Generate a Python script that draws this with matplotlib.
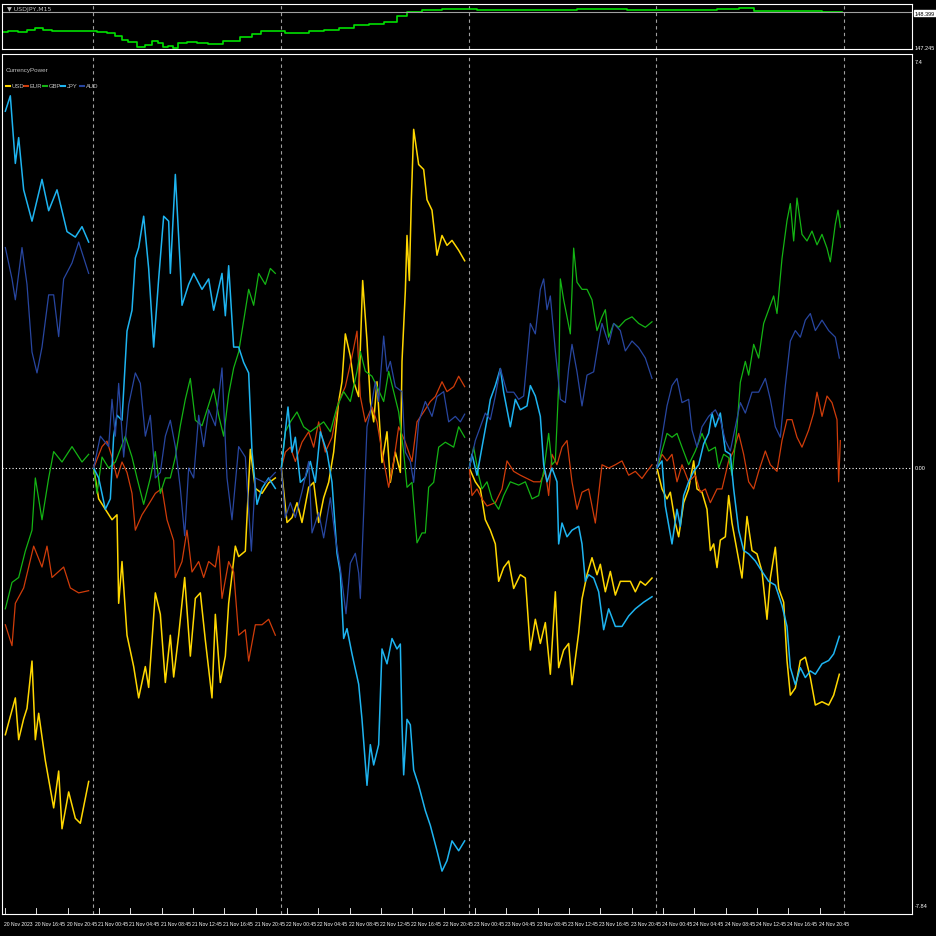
import numpy as np
import matplotlib
matplotlib.use("Agg")
import matplotlib.pyplot as plt

# time axis is in chart columns (one trading day = 188 columns), values are currency power
# each segment: (offset, [column steps], [values]); real column = offset + step/3
USD = [
    (0, [10, 40, 50, 65, 75, 90, 100, 110, 130, 155, 170, 180, 200, 220, 235, 260],
     [-4.85, -4.18, -4.94, -4.56, -4.37, -3.51, -4.94, -4.46, -5.32, -6.18, -5.51, -6.56, -5.89, -6.37, -6.46, -5.7]),
    (0, [275, 290, 310, 330, 345, 350, 360, 375, 395, 410, 430, 440, 460, 475, 490, 505, 515, 530, 548, 565, 580, 595, 610, 630, 640, 655, 670, 680, 700, 710, 730, 745, 760, 780, 800, 820],
     [0, -0.56, -0.75, -0.94, -0.85, -2.46, -1.7, -3.04, -3.61, -4.18, -3.61, -3.99, -2.27, -2.66, -3.9, -3.04, -3.8, -3.04, -1.99, -3.42, -2.37, -2.27, -3.13, -4.18, -2.66, -3.9, -3.42, -2.46, -1.42, -1.61, -1.51, 0.34, -0.37, -0.46, -0.27, -0.18]),
    (270, [28, 45, 60, 75, 90, 110, 125, 140, 155, 170, 185, 200, 210, 220, 235, 245, 260, 272, 285, 295, 305, 315, 330, 345, 355, 370, 385, 390, 400, 405, 412, 418, 425, 440, 455, 465, 480, 495, 510, 525, 540, 560, 578],
     [0, -0.99, -0.9, -0.63, -0.99, -0.35, -0.26, -0.99, -0.54, -0.26, 0.29, 1.21, 1.57, 2.44, 2.03, 1.57, 1.3, 3.41, 2.31, 1.21, 0.84, 1.57, 0.1, 0.66, -0.26, 0.29, -0.08, 1.94, 3.22, 4.23, 3.41, 4.88, 6.16, 5.52, 5.43, 4.88, 4.69, 3.87, 4.23, 4.05, 4.14, 3.96, 3.77]),
    (460, [22, 40, 55, 70, 85, 100, 110, 125, 140, 155, 175, 190, 205, 220, 235, 250, 265, 280, 290, 305, 320, 330, 350, 360, 375, 390, 405, 415, 430, 445, 460, 475, 490, 505, 520, 535, 550, 570],
     [0, -0.25, -0.38, -0.94, -1.13, -1.38, -2.06, -1.81, -1.69, -2.19, -1.94, -2.0, -3.31, -2.75, -3.19, -2.81, -3.75, -2.25, -3.63, -3.31, -3.19, -3.94, -3.0, -2.38, -1.94, -1.63, -1.94, -1.75, -2.25, -1.88, -2.31, -2.06, -2.06, -2.06, -2.25, -2.06, -2.13, -2.0]),
    (460, [585, 600, 615, 625, 640, 650, 665, 680, 695, 705, 720, 735, 745, 755, 765, 775, 790, 800, 810, 825, 840, 855, 870, 885, 900, 915, 925, 940, 950, 965, 975, 985, 1000, 1015, 1030, 1045, 1060, 1080, 1100, 1115, 1132],
     [0, -0.38, -0.56, -0.44, -1.0, -1.25, -0.63, -0.38, 0.13, -0.38, -0.44, -0.75, -1.5, -1.38, -1.81, -1.31, -1.25, -0.5, -1.0, -1.5, -2.0, -0.88, -1.5, -1.56, -1.88, -2.75, -2.0, -1.44, -2.19, -2.44, -3.5, -4.13, -4.0, -3.5, -3.44, -3.81, -4.31, -4.25, -4.31, -4.13, -3.75]),
]

EUR = [
    (0, [10, 30, 40, 65, 95, 120, 135, 150, 185, 205, 230, 260],
     [-2.85, -3.23, -2.46, -2.18, -1.42, -1.8, -1.42, -1.99, -1.8, -2.18, -2.27, -2.23]),
    (0, [275, 300, 315, 330, 345, 360, 375, 390, 400, 420, 440, 460, 480, 495, 515, 520, 540, 555, 570, 590, 605, 620, 640, 650, 660, 680, 695, 710, 730, 740, 760, 780, 800, 820],
     [0, 0.39, 0.49, 0.2, -0.18, 0.11, -0.08, -0.46, -1.13, -0.85, -0.66, -0.46, -0.37, -0.94, -1.32, -1.99, -1.7, -1.13, -1.89, -1.7, -1.99, -1.7, -1.8, -1.42, -2.37, -1.7, -1.89, -3.04, -2.94, -3.51, -2.85, -2.85, -2.75, -3.04]),
    (270, [28, 40, 55, 70, 90, 110, 125, 140, 160, 180, 200, 220, 240, 255, 265, 280, 300, 315, 330, 350, 365, 380, 400, 420, 435, 455, 475, 490, 510, 525, 545, 560, 578],
     [0, 0.29, 0.38, 0.12, 0.47, 0.66, 0.38, 0.84, 0.29, 0.56, 1.21, 1.48, 2.03, 2.49, 1.3, 0.84, 1.11, 0.84, 0.29, -0.35, 0.12, 0.75, 0.47, 0.12, 0.84, 1.02, 1.21, 1.3, 1.57, 1.39, 1.48, 1.67, 1.48]),
    (460, [22, 30, 45, 60, 75, 100, 120, 135, 155, 175, 195, 215, 235, 250, 260, 270, 285, 300, 315, 330, 345, 360, 380, 400, 420, 440, 460, 480, 500, 520, 540, 555, 570],
     [0, -0.5, -0.38, -0.56, -0.69, -0.63, -0.38, 0.13, -0.06, -0.13, -0.19, -0.25, -0.25, -0.06, -0.5, 0.25, 0.06, 0.38, 0.5, -0.25, -0.75, -0.44, -0.38, -1.0, 0.06, 0.0, 0.06, 0.13, -0.13, -0.06, -0.19, -0.06, 0.06]),
    (460, [585, 600, 615, 630, 645, 660, 680, 700, 715, 730, 745, 765, 780, 800, 815, 830, 845, 860, 875, 890, 910, 925, 945, 960, 975, 990, 1005, 1020, 1040, 1055, 1065, 1080, 1095, 1110, 1125, 1130, 1135],
     [0, 0.25, 0.13, 0.25, -0.25, 0.06, -0.25, -0.13, -0.44, -0.38, -0.63, -0.38, -0.38, 0.13, 0.31, 0.63, 0.25, -0.25, -0.38, -0.06, 0.31, 0.06, -0.06, 0.5, 0.88, 0.88, 0.56, 0.38, 0.69, 1.0, 1.38, 0.94, 1.31, 1.19, 0.88, -0.25, 0.5]),
]

GBP = [
    (0, [10, 30, 50, 70, 90, 100, 120, 140, 155, 180, 210, 240, 260],
     [-2.56, -2.08, -1.99, -1.51, -1.13, -0.18, -0.94, -0.18, 0.3, 0.11, 0.39, 0.11, 0.25]),
    (0, [275, 285, 300, 320, 340, 370, 390, 405, 425, 445, 460, 475, 490, 505, 520, 535, 550, 565, 580, 600, 620, 635, 650, 665, 680, 695, 710, 725, 740, 755, 770, 790, 805, 820],
     [0, -0.46, 0.2, 0, 0.11, 0.58, 0.2, -0.18, -0.66, -0.18, 0.3, -0.46, -0.18, -0.18, 0.2, 0.77, 1.25, 1.63, 0.87, 0.77, 1.15, 1.44, 0.96, 0.58, 1.34, 1.82, 2.11, 2.68, 3.25, 2.96, 3.54, 3.34, 3.63, 3.54]),
    (270, [28, 40, 55, 75, 95, 115, 135, 155, 175, 195, 215, 235, 255, 265, 280, 300, 315, 335, 350, 365, 380, 395, 405, 420, 435, 450, 460, 470, 485, 500, 520, 545, 560, 578],
     [0, 0.66, 0.84, 1.02, 0.75, 0.66, 0.75, 0.84, 0.66, 1.11, 1.39, 1.21, 1.76, 2.12, 1.76, 1.67, 1.48, 1.21, 1.76, 1.39, 1.02, 0.29, -0.35, -0.26, -1.36, -1.18, -1.18, -0.35, -0.26, 0.38, 0.47, 0.38, 0.75, 0.56]),
    (460, [22, 35, 50, 60, 75, 90, 110, 125, 145, 170, 190, 210, 230, 245, 260, 270, 280, 290, 295, 305, 315, 325, 335, 345, 360, 375, 390, 405, 420, 430, 440, 455, 470, 490, 510, 530, 550, 570],
     [0, 0.38, -0.13, -0.38, -0.25, -0.56, -0.75, -0.5, -0.25, -0.31, -0.25, -0.56, -0.5, -0.06, 0.63, 0.06, 0.13, 1.5, 3.44, 3.06, 2.75, 2.44, 4.0, 3.38, 3.25, 3.25, 3.06, 2.5, 2.75, 2.88, 2.38, 2.63, 2.56, 2.69, 2.75, 2.63, 2.56, 2.66]),
    (460, [585, 600, 615, 630, 645, 660, 680, 700, 720, 740, 760, 770, 785, 800, 810, 825, 835, 850, 860, 875, 890, 905, 920, 935, 945, 960, 975, 985, 995, 1005, 1020, 1035, 1050, 1065, 1080, 1095, 1105, 1120, 1128, 1135],
     [0, 0.31, 0.63, 0.56, 0.63, 0.38, 0.06, 0.31, 0.63, 0.31, 0.38, 0, 0.25, 0.19, -0.13, 0.75, 1.56, 1.94, 1.69, 2.25, 2.0, 2.63, 2.88, 3.13, 2.81, 3.81, 4.5, 4.81, 4.13, 4.91, 4.25, 4.13, 4.31, 4.06, 4.25, 4.0, 3.75, 4.44, 4.69, 4.38]),
]

JPY = [
    (0, [10, 25, 40, 50, 65, 90, 120, 140, 165, 195, 220, 240, 260],
     [6.49, 6.77, 5.54, 6.01, 5.06, 4.49, 5.25, 4.68, 5.06, 4.3, 4.2, 4.39, 4.11]),
    (0, [275, 290, 310, 325, 335, 345, 360, 375, 390, 400, 410, 425, 440, 455, 470, 485, 500, 505, 520, 535, 540, 560, 575, 600, 620, 635, 660, 670, 680, 695, 710, 725, 740, 750, 765, 780, 800, 820],
     [0, -0.18, -0.75, -0.56, 0.58, 0.96, 0.87, 2.49, 2.87, 3.82, 4.01, 4.58, 3.63, 2.2, 3.44, 4.58, 4.49, 3.54, 5.34, 3.63, 2.96, 3.34, 3.54, 3.25, 3.44, 2.87, 3.54, 2.77, 3.68, 2.2, 2.2, 1.92, 1.73, 0.3, -0.66, -0.37, -0.18, -0.37]),
    (270, [28, 48, 60, 70, 85, 100, 115, 130, 145, 165, 180, 195, 205, 215, 225, 240, 260, 270, 285, 295, 305, 320, 330, 345, 360, 375, 385, 390, 395, 405, 415, 425, 440, 460, 475, 495, 510, 525, 540, 560, 578],
     [0, 1.11, 0.29, 0.56, -0.26, -0.17, 0.12, -0.26, 0.66, 0.29, -0.26, -1.55, -1.91, -3.1, -2.92, -3.38, -3.93, -4.57, -5.77, -5.03, -5.4, -5.03, -3.29, -3.56, -3.1, -3.29, -3.2, -4.67, -5.58, -4.57, -4.67, -5.49, -5.77, -6.23, -6.5, -6.96, -7.33, -7.14, -6.78, -6.96, -6.78]),
    (460, [22, 30, 45, 60, 75, 85, 100, 115, 125, 145, 160, 175, 195, 205, 220, 235, 245, 255, 270, 285, 290, 300, 315, 330, 350, 360, 370, 380, 395, 410, 425, 440, 460, 480, 500, 520, 545, 570],
     [0, 0.25, -0.13, 0.38, 0.88, 1.25, 1.5, 1.81, 1.38, 0.75, 1.25, 1.06, 1.13, 1.5, 1.31, 0.94, 0.06, -0.25, 0, -0.25, -1.38, -1.0, -1.25, -1.13, -1.06, -1.38, -2.06, -1.94, -2.0, -2.25, -2.94, -2.56, -2.88, -2.88, -2.69, -2.56, -2.44, -2.34]),
    (460, [585, 600, 610, 630, 645, 655, 665, 680, 695, 710, 725, 740, 750, 760, 775, 790, 805, 815, 830, 845, 860, 880, 900, 920, 940, 960, 975, 985, 1000, 1015, 1030, 1045, 1060, 1080, 1100, 1115, 1132],
     [0, 0.13, -0.69, -1.38, -0.75, -1.06, -0.5, -0.25, -0.06, 0.06, 0.44, 0.63, 1.0, 0.75, 1.0, 0.31, 0.25, -0.38, -1.13, -1.5, -1.56, -1.69, -1.88, -2.06, -2.13, -2.5, -2.88, -3.63, -3.94, -3.63, -3.81, -3.69, -3.75, -3.56, -3.5, -3.38, -3.06]),
]

AUD = [
    (0, [10, 30, 40, 60, 75, 90, 105, 120, 140, 155, 170, 185, 210, 230, 260],
     [4.01, 3.44, 3.06, 4.01, 3.34, 2.11, 1.73, 2.2, 3.15, 3.15, 2.39, 3.44, 3.73, 4.11, 3.54]),
    (0, [275, 295, 320, 330, 340, 350, 365, 380, 400, 415, 430, 445, 460, 475, 490, 505, 520, 535, 548, 560, 575, 590, 605, 620, 640, 660, 675, 690, 710, 730, 748, 760, 790, 820],
     [0, 0.58, 0.39, 1.25, 0.58, 1.54, 0.2, 1.15, 1.73, 1.54, 0.58, 0.96, -0.18, -0.08, 0.58, 0.87, 0.39, -0.37, -1.23, 0, -0.18, 0.96, 0.39, 1.06, 0.77, 1.82, -0.18, -0.94, 0.39, 0.2, -1.51, -0.18, -0.27, -0.08]),
    (270, [28, 40, 55, 70, 90, 110, 120, 140, 155, 175, 190, 205, 222, 235, 250, 260, 265, 275, 285, 295, 310, 320, 335, 345, 355, 370, 390, 400, 415, 425, 440, 460, 480, 495, 515, 530, 550, 565, 578],
     [0, -0.9, -0.63, -0.9, -0.43, 0.12, -1.18, -0.81, -1.27, -0.54, -1.27, -1.82, -2.65, -1.73, -1.55, -1.91, -2.37, -0.81, 0.75, 1.02, 1.57, 1.21, 2.4, 1.76, 1.94, 1.48, 1.39, 0.29, 0.12, -0.26, 0.84, 1.21, 0.94, 1.3, 1.39, 0.84, 0.94, 0.84, 0.98]),
    (460, [22, 40, 55, 70, 85, 100, 115, 135, 155, 170, 185, 205, 220, 235, 245, 255, 265, 280, 295, 310, 320, 330, 345, 360, 375, 395, 410, 420, 440, 455, 475, 490, 510, 530, 550, 570],
     [0, 0.5, 0.75, 1.0, 0.88, 1.31, 1.81, 1.38, 1.38, 1.25, 1.31, 2.63, 2.44, 3.25, 3.44, 2.88, 3.13, 2.13, 1.25, 1.19, 1.81, 2.25, 1.75, 1.13, 1.69, 1.75, 2.31, 2.63, 2.25, 2.63, 2.5, 2.13, 2.31, 2.19, 2.0, 1.63]),
    (460, [585, 600, 615, 630, 645, 660, 680, 690, 705, 720, 740, 760, 775, 790, 805, 820, 835, 850, 870, 890, 910, 925, 940, 955, 970, 985, 1000, 1015, 1030, 1045, 1060, 1080, 1100, 1120, 1132],
     [0, 0.56, 1.13, 1.5, 1.63, 1.19, 1.25, 0.69, 0.38, 0.75, 0.94, 1.06, 0.88, 0.5, 0.31, 0.75, 1.19, 1.0, 1.38, 1.38, 1.63, 1.25, 0.75, 0.56, 1.5, 2.31, 2.5, 2.38, 2.69, 2.81, 2.5, 2.69, 2.5, 2.38, 2.0]),
]

# USDJPY M15 price (top window)
PRICE_T = [0, 12, 20, 30, 37, 45, 55, 70, 90, 100, 110, 117, 123, 130, 140, 147, 153, 160, 163, 170, 173, 180, 190, 200, 213, 230, 247, 253, 265, 277, 290, 300, 315, 330, 345, 360, 375, 390, 400, 410, 430, 450, 500, 550, 600, 650, 700, 730, 745, 760, 800, 840]
PRICE = [147.77, 147.80, 147.77, 147.85, 147.90, 147.83, 147.80, 147.80, 147.80, 147.77, 147.74, 147.64, 147.51, 147.45, 147.28, 147.35, 147.48, 147.42, 147.28, 147.32, 147.25, 147.40, 147.45, 147.41, 147.38, 147.48, 147.61, 147.71, 147.80, 147.80, 147.74, 147.74, 147.80, 147.84, 147.92, 148.01, 148.05, 148.11, 148.30, 148.44, 148.50, 148.54, 148.51, 148.51, 148.52, 148.51, 148.50, 148.54, 148.56, 148.47, 148.47, 148.44]

SERIES = [("USD", USD, "#ffd700"), ("EUR", EUR, "#d03c0a"), ("GBP", GBP, "#14b414"),
          ("JPY", JPY, "#1eb4f0"), ("AUD", AUD, "#2846a0")]
DAY_LINES = [91, 279, 467, 654, 842]

plt.rcParams["font.family"] = ["Liberation Sans", "DejaVu Sans"]

W = 937
fig = plt.figure(figsize=(9.37, 9.37), dpi=100, facecolor="black")

ax_top = fig.add_axes([2 / W, 1 - 50 / W, 910 / W, 45 / W], facecolor="black")
ax = fig.add_axes([2 / W, 22 / W, 910 / W, 860 / W], facecolor="black")

for a in (ax_top, ax):
    a.set_xlim(0, 910)
    a.set_xticks([])
    a.set_yticks([])
    for s in a.spines.values():
        s.set_color("white")
        s.set_linewidth(0.8)
    for d in DAY_LINES:
        a.axvline(d, color="#a0a0a0", lw=0.8, ls=(0, (3, 3)))

ax_top.step(PRICE_T, PRICE, where="mid", color="#00e000", lw=1.2)
ax_top.set_ylim(147.22, 148.69)
ax_top.axhline(148.44, color="#a0a0a0", lw=0.8)
ax_top.text(5, 148.54, "▼ USDJPY,M15", color="#c0c0c0", fontsize=4.5, va="center",
            family=["DejaVu Sans"])
fig.text(915 / W, 1 - 14 / W, "148.399", color="black", fontsize=4.0, va="center",
         bbox=dict(facecolor="white", edgecolor="white", pad=0.5))
fig.text(915 / W, 1 - 48 / W, "147.245", color="white", fontsize=4.0, va="center")

ax.axhline(0, color="white", lw=0.8, ls=(0, (1, 2)))
for name, segs, col in SERIES:
    for off, steps, vals in segs:
        t = off + np.array(steps) / 3.0
        ax.plot(t, vals, color=col, lw=1.1 if name in ("USD", "JPY") else 0.9)
ax.set_ylim(-8.11, 7.53)

ax.text(4, 7.25, "CurrencyPower", color="#c0c0c0", fontsize=4.5, va="center")
lx = 4
for name, segs, col in SERIES:
    ax.plot([lx, lx + 4], [6.95, 6.95], color=col, lw=1.5)
    ax.text(lx + 5.5, 6.95, name, color="#c0c0c0", fontsize=4.2, va="center")
    lx += 18.5

fig.text(915 / W, 1 - 62 / W, "7.4", color="white", fontsize=4.0, va="center")
fig.text(915 / W, 1 - 469 / W, "0.00", color="white", fontsize=4.0, va="center")
fig.text(915 / W, 1 - 907 / W, "-7.84", color="white", fontsize=4.0, va="center")

# time labels every 4 hours
labels = ["20 Nov 2023"]
for day in range(20, 25):
    for h in (0, 4, 8, 12, 16, 20):
        if day == 20 and h < 16:
            continue
        labels.append(f"{day} Nov {h:02d}:45")
for i, lab in enumerate(labels):
    x = 3 + 31.33 * i
    fig.text((x + 1) / W, 1 - 925 / W, lab, color="white", fontsize=3.6, va="center")
    ax.plot([x, x], [-8.11, -8.0], color="white", lw=0.6)

fig.savefig("out.png", dpi=100, facecolor="black")
